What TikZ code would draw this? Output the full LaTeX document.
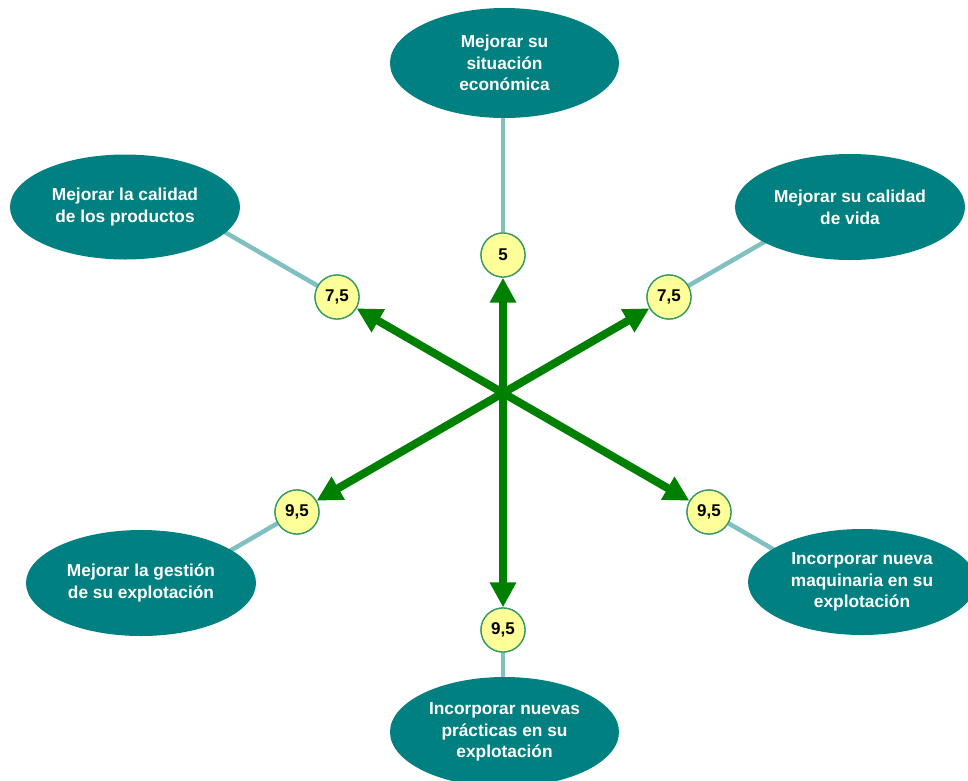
\documentclass[tikz,border=0pt]{standalone}
\usepackage{fontspec}
\setmainfont{Liberation Sans}
\usetikzlibrary{arrows.meta,shapes.geometric}
\definecolor{tealfill}{RGB}{0,128,128}
\definecolor{connc}{RGB}{128,192,192}
\definecolor{circfill}{RGB}{255,255,153}
\definecolor{circline}{RGB}{51,153,102}
\definecolor{arrowgreen}{RGB}{0,128,0}
\tikzset{
  goal/.style={ellipse, fill=tealfill, draw=none, inner sep=0pt,
    minimum width=230pt, minimum height=106pt, text=white, align=center,
    font=\fontsize{17.3}{21.8}\selectfont\bfseries},
  score/.style={circle, fill=circfill, draw=circline, line width=1.3pt,
    minimum size=44pt, inner sep=0pt, font=\fontsize{17}{19}\selectfont\bfseries},
  conn/.style={draw=connc, line width=4.5pt},
  bigarrow/.style={draw=arrowgreen, line width=8pt,
    -{Triangle[length=25pt,width=25pt]}}
}
\begin{document}
\begin{tikzpicture}[x=1pt,y=-1pt]
\useasboundingbox (0,0) rectangle (968,780);
\coordinate (c) at (503,393);
% connector ends
\coordinate (k1) at (797,223);
\coordinate (k2) at (209,223);
\coordinate (k3) at (209,563);
\coordinate (k4) at (797,563);
\coordinate (k0) at (503,63);
\coordinate (k5) at (503,732);
% score circles (placed first for reference)
\path (503,255) node[score] (n0) {5};
\path (669,297) node[score] (n1) {7,5};
\path (337,297) node[score] (n2) {7,5};
\path (297,512) node[score] (n3) {9,5};
\path (709,512) node[score] (n4) {9,5};
\path (503,630) node[score] (n5) {9,5};
% connectors
\draw[conn] (n0.center) -- (k0);
\draw[conn] (n1.center) -- (k1);
\draw[conn] (n2.center) -- (k2);
\draw[conn] (n3.center) -- (k3);
\draw[conn] (n4.center) -- (k4);
\draw[conn] (n5.center) -- (k5);
% goals
\node[goal, minimum height=110pt, minimum width=229pt] (e0) at (504.5,63) {Mejorar su\\situación\\económica};
\node[goal, minimum height=105pt] (e2) at (125,207) {Mejorar la calidad\\de los productos};
\node[goal] (e1) at (850,207) {Mejorar su calidad\\de vida};
\node[goal] (e3) at (141,583) {Mejorar la gestión\\de su explotación};
\node[goal, minimum width=228pt] (e4) at (862,582) {Incorporar nueva\\maquinaria en su\\explotación};
\node[goal, minimum height=110pt, minimum width=229pt] (e5) at (504.5,732) {Incorporar nuevas\\prácticas en su\\explotación};
% redraw circles on top
\path (503,255) node[score] {5};
\path (669,297) node[score] {7,5};
\path (337,297) node[score] {7,5};
\path (297,512) node[score] {9,5};
\path (709,512) node[score] {9,5};
\path (503,630) node[score] {9,5};
% arrows
\draw[bigarrow] (c) -- (n0);
\draw[bigarrow] (c) -- (n1);
\draw[bigarrow] (c) -- (n2);
\draw[bigarrow] (c) -- (n3);
\draw[bigarrow] (c) -- (n4);
\draw[bigarrow] (c) -- (n5);
\end{tikzpicture}
\end{document}
